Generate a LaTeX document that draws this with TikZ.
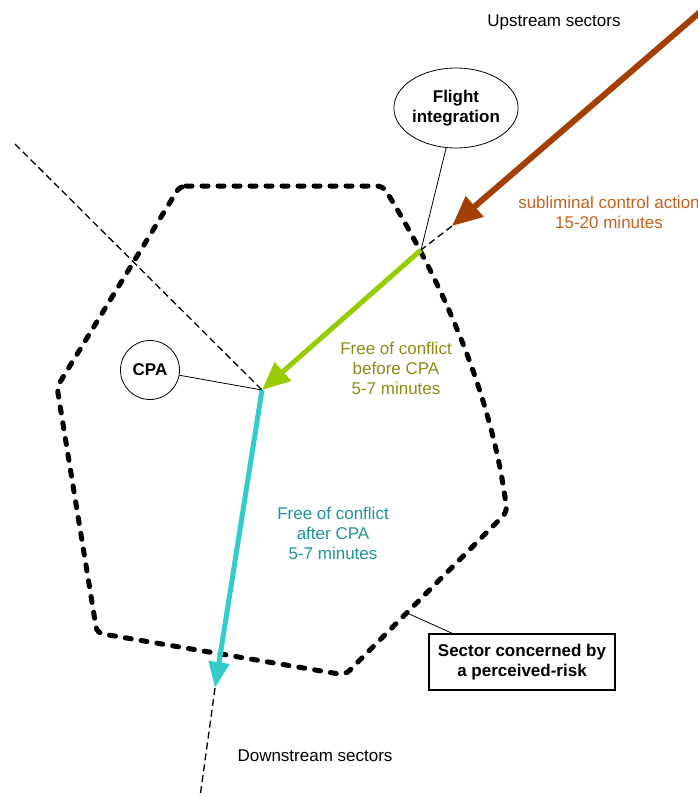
\documentclass[tikz,border=0pt]{standalone}
\usepackage{fontspec}
\setmainfont{Liberation Sans}
\usetikzlibrary{arrows.meta,shapes.geometric}

\definecolor{rustline}{HTML}{A33F00}
\definecolor{rusttext}{HTML}{C4601F}
\definecolor{limeline}{HTML}{99CC00}
\definecolor{olivetext}{HTML}{8C8C14}
\definecolor{cyanline}{HTML}{33CCCC}
\definecolor{tealtext}{HTML}{1F9494}

\tikzset{
  lbl/.style={font=\fontsize{17}{20}\selectfont, align=center, inner sep=0pt},
  boldlbl/.style={lbl, font=\fontsize{17}{20}\selectfont\bfseries},
  sectorline/.style={line width=5pt, line cap=round, dash pattern=on 6pt off 10pt, rounded corners=6pt},
  thindash/.style={line width=1.3pt, dash pattern=on 7pt off 4pt},
  leader/.style={line width=0.8pt}
}

\begin{document}
\begin{tikzpicture}[x=1pt,y=-1pt]
\useasboundingbox (0,0) rectangle (698,797);

% sector concerned
\draw[sectorline] (180,186) -- (383,186) .. controls (430,262) and (490,380) .. (507,512)
  -- (345,675) -- (97,633) -- (57,387) -- cycle;

\coordinate (up) at (706,7);
\coordinate (subtip) at (452,226);
\coordinate (entry) at (421,250);
\coordinate (cpapt) at (262,390);
\coordinate (exit) at (215,688);
\coordinate (down) at (200,797);
\coordinate (far) at (15,144);
\coordinate (edge) at (407,613);

\draw[thindash] (subtip) -- (entry);
\draw[thindash] (far) -- (cpapt);
\draw[thindash] (exit) -- (down);

\draw[cyanline, line width=5pt, -{Triangle[length=26pt,width=20pt]}] (cpapt) -- (exit);
\draw[limeline, line width=5pt, -{Triangle[length=28pt,width=24pt]}] (entry) -- (cpapt);
\draw[rustline, line width=6pt, -{Triangle[length=30pt,width=26pt]}] (up) -- (subtip);

\node[ellipse, draw, leader, minimum width=122pt, minimum height=80pt, boldlbl] (fi) at (456,108) {Flight\\integration};
\node[circle, draw, leader, minimum size=59pt, boldlbl] (cpa) at (150,370) {CPA};
\node[draw, line width=1.2pt, minimum width=186pt, minimum height=56pt, boldlbl] (risk) at (522,662) {Sector concerned by\\a perceived-risk};

\draw[leader] (fi) -- (entry);
\draw[leader] (cpa) -- (cpapt);
\draw[leader] (edge) -- ([xshift=24pt]risk.north west);

\node[lbl] (upstream) at (554,22) {Upstream sectors};
\node[lbl] (downstream) at (315,756) {Downstream sectors};
\node[lbl, text=rusttext] (sublim) at (609,212) {subliminal control action\\15-20 minutes};
\node[lbl, text=olivetext] (before) at (396,368) {Free of conflict\\before CPA\\5-7 minutes};
\node[lbl, text=tealtext] (after) at (333,533) {Free of conflict\\after CPA\\5-7 minutes};
\end{tikzpicture}
\end{document}
